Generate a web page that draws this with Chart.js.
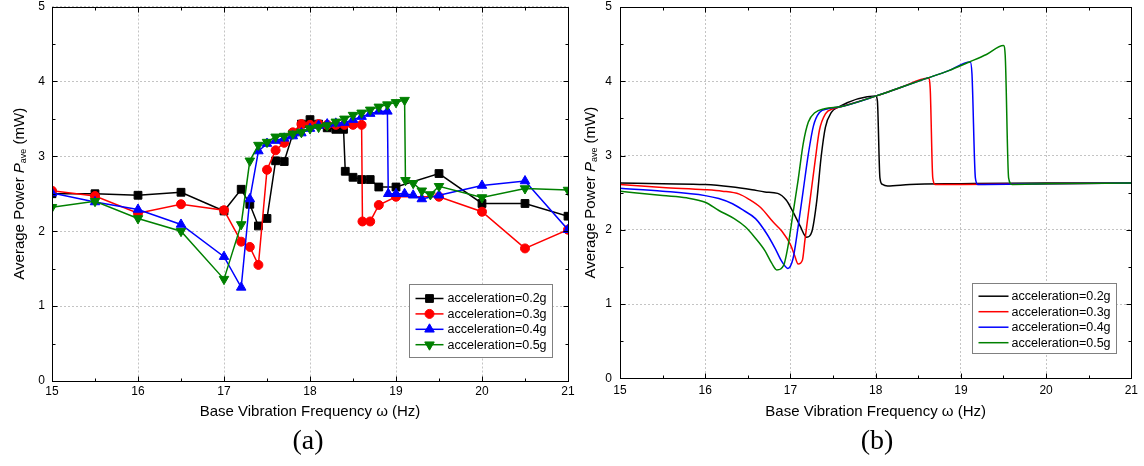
<!DOCTYPE html>
<html><head><meta charset="utf-8">
<script src="https://cdn.jsdelivr.net/npm/chart.js@4/dist/chart.umd.min.js"></script>
<style>
html,body{margin:0;padding:0;background:#fff;}
#wrap{position:relative;width:1144px;height:466px;overflow:hidden;background:#fff;}
canvas{position:absolute;left:0;top:0;}
.cap{position:absolute;top:440px;font-family:'Liberation Serif','Times New Roman',serif;font-size:28px;color:#000;transform:translate(-50%,-50%);white-space:nowrap;}
</style></head><body>
<div id="wrap">
<canvas id="ca" width="1144" height="466"></canvas>
<canvas id="cb" width="1144" height="466"></canvas>
<div class="cap" style="left:308px">(a)</div>
<div class="cap" style="left:877px">(b)</div>
</div>
<script>
// ---------- tick / label data ----------
const seriesLabels = ['acceleration=0.2g','acceleration=0.3g','acceleration=0.4g','acceleration=0.5g'];
const seriesColors = ['#000000','#ff0000','#0000ff','#008000'];
const xTitle = 'Base Vibration Frequency \u03c9 (Hz)';
const yTitleParts = ['Average Power ', 'P', 'ave', ' (mW)'];
const xRange = [15, 21];
const yRange = [0, 5];

// ---------- (a) experimental data ----------
const a02x = [15,15.5,16,16.5,17,17.2,17.3,17.4,17.5,17.6,17.7,17.8,17.9,18.0,18.1,18.2,18.3,18.39,18.41,18.5,18.6,18.7,18.8,19.0,19.5,20,20.5,21];
const a02y = [2.50,2.50,2.48,2.52,2.27,2.56,2.36,2.07,2.17,2.94,2.93,3.30,3.43,3.49,3.43,3.38,3.36,3.36,2.80,2.72,2.69,2.69,2.59,2.59,2.77,2.37,2.37,2.20];
const a03x = [15,15.5,16,16.5,17,17.2,17.3,17.4,17.5,17.6,17.7,17.8,17.9,18.0,18.1,18.2,18.3,18.4,18.5,18.6,18.61,18.7,18.8,19.0,19.5,20,20.5,21];
const a03y = [2.54,2.47,2.24,2.36,2.28,1.86,1.79,1.55,2.82,3.08,3.18,3.32,3.43,3.42,3.43,3.42,3.42,3.42,3.42,3.42,2.13,2.13,2.35,2.46,2.46,2.26,1.77,2.02];
const a04x = [15,15.5,16,16.5,17,17.2,17.3,17.4,17.5,17.6,17.7,17.8,17.9,18.0,18.1,18.2,18.3,18.4,18.5,18.6,18.7,18.8,18.9,18.91,19.0,19.1,19.2,19.3,19.5,20,20.5,21];
const a04y = [2.51,2.39,2.29,2.09,1.66,1.25,2.43,3.07,3.17,3.21,3.24,3.27,3.31,3.37,3.41,3.43,3.44,3.45,3.49,3.53,3.57,3.60,3.60,2.50,2.50,2.50,2.48,2.43,2.48,2.61,2.67,2.02];
const a05x = [15,15.5,16,16.5,17,17.2,17.3,17.4,17.5,17.6,17.7,17.8,17.9,18.0,18.1,18.2,18.3,18.4,18.5,18.6,18.7,18.8,18.9,19.0,19.1,19.11,19.2,19.3,19.4,19.5,20,20.5,21];
const a05y = [2.32,2.40,2.17,2.00,1.36,2.09,2.94,3.15,3.19,3.26,3.27,3.30,3.32,3.37,3.39,3.41,3.46,3.50,3.55,3.58,3.62,3.66,3.69,3.72,3.75,2.68,2.64,2.54,2.49,2.60,2.45,2.57,2.55];

// ---------- (b) simulated curves ----------
const b02x = [15,15.5,16,16.3,16.55,16.7,16.85,16.95,17.03,17.11,17.19,17.25,17.31,17.36,17.41,17.48,17.56,18.0,18.02,18.05,18.08,18.14,18.4,19,20,21];
const b02y = [2.63,2.62,2.61,2.58,2.54,2.51,2.49,2.40,2.24,2.06,1.90,1.97,2.40,2.98,3.38,3.58,3.65,3.80,3.74,2.70,2.61,2.59,2.61,2.62,2.63,2.63];
const b03x = [15,15.5,16,16.2,16.4,16.5,16.65,16.8,16.9,17.0,17.05,17.09,17.14,17.17,17.23,17.29,17.34,17.41,17.5,17.6,18.0,18.3,18.62,18.64,18.67,18.7,19,20,21];
const b03y = [2.61,2.57,2.54,2.52,2.48,2.42,2.30,2.10,1.98,1.80,1.65,1.54,1.59,1.86,2.40,2.93,3.34,3.56,3.63,3.66,3.80,3.92,4.04,3.90,2.70,2.61,2.61,2.62,2.63];
const b04x = [15,15.5,16,16.16,16.32,16.45,16.59,16.72,16.82,16.9,16.97,17.03,17.09,17.15,17.21,17.27,17.34,17.44,17.6,18.0,18.3,18.6,18.85,19.11,19.13,19.17,19.2,20,21];
const b04y = [2.56,2.52,2.46,2.42,2.35,2.26,2.15,1.95,1.75,1.57,1.48,1.61,2.04,2.53,3.02,3.40,3.58,3.63,3.66,3.80,3.92,4.04,4.14,4.26,4.10,2.70,2.61,2.62,2.63];
const b05x = [15,15.5,15.78,16,16.16,16.34,16.47,16.58,16.7,16.78,16.84,16.92,16.97,17.03,17.09,17.15,17.21,17.29,17.4,17.6,18.0,18.3,18.6,18.85,19.1,19.3,19.5,19.52,19.56,19.6,20,21];
const b05y = [2.52,2.46,2.43,2.37,2.26,2.15,2.04,1.90,1.72,1.55,1.46,1.52,1.77,2.22,2.67,3.16,3.45,3.58,3.63,3.66,3.80,3.92,4.04,4.14,4.26,4.36,4.48,4.35,2.70,2.61,2.62,2.63];

const pointStyles = ['rect','circle','triangle','triangle'];
const pointRots = [0,0,0,180];
const pointRadii = [5.5,4.5,5.5,5.5];

const pts = (xs, ys) => xs.map((x, i) => ({x: x, y: ys[i]}));

Chart.defaults.font.family = "'Liberation Sans', Arial, sans-serif";
Chart.defaults.color = '#000';

function drawMarker(ctx, style, rot, r, x, y) {
  const H = Chart.helpers;
  if (H && H.drawPoint) {
    H.drawPoint(ctx, {pointStyle: style, rotation: rot, radius: r, borderWidth: 1}, x, y);
    return;
  }
  ctx.beginPath();
  if (style === 'circle') ctx.arc(x, y, r, 0, Math.PI * 2);
  else if (style === 'rect') { const s = r * Math.SQRT1_2; ctx.rect(x - s, y - s, 2 * s, 2 * s); }
  else {
    const d = rot ? -1 : 1;
    ctx.moveTo(x, y - d * r);
    ctx.lineTo(x + r * 0.866, y + d * r * 0.5);
    ctx.lineTo(x - r * 0.866, y + d * r * 0.5);
    ctx.closePath();
  }
  ctx.fill(); ctx.stroke();
}

const decoPlugin = {
  id: 'deco',
  afterDraw(chart, args, o) {
    const ctx = chart.ctx, ca = chart.chartArea, xs = chart.scales.x, ys = chart.scales.y;
    ctx.save();
    ctx.setLineDash([]);
    ctx.strokeStyle = '#000'; ctx.lineWidth = 1;
    const L = Math.round(ca.left) + 0.5, R = Math.round(ca.right) + 0.5;
    const T = Math.round(ca.top) + 0.5, B = Math.round(ca.bottom) + 0.5;
    ctx.strokeRect(L, T, R - L, B - T);
    ctx.beginPath();
    for (let v = xs.min; v <= xs.max + 1e-9; v += 0.5) {
      const p = Math.round(xs.getPixelForValue(v)) + 0.5;
      const len = Math.abs(v - Math.round(v)) < 1e-6 ? 5 : 3;
      ctx.moveTo(p, B); ctx.lineTo(p, B - len);
      ctx.moveTo(p, T); ctx.lineTo(p, T + len);
    }
    for (let v = ys.min; v <= ys.max + 1e-9; v += 0.5) {
      const p = Math.round(ys.getPixelForValue(v)) + 0.5;
      const len = Math.abs(v - Math.round(v)) < 1e-6 ? 5 : 3;
      ctx.moveTo(L, p); ctx.lineTo(L + len, p);
      ctx.moveTo(R, p); ctx.lineTo(R - len, p);
    }
    ctx.stroke();

    // y axis title (rich text)
    ctx.save();
    ctx.translate(o.yTitleX, (ca.top + ca.bottom) / 2);
    ctx.rotate(-Math.PI / 2);
    ctx.fillStyle = '#000';
    ctx.textBaseline = 'middle';
    ctx.textAlign = 'left';
    const fam = "'Liberation Sans', Arial, sans-serif";
    const fonts = ['15px ' + fam, 'italic 15px ' + fam, '9px ' + fam, '15px ' + fam];
    const dy = [0, 0, 4, 0];
    let widths = yTitleParts.map((t, i) => { ctx.font = fonts[i]; return ctx.measureText(t).width; });
    let total = widths.reduce((a, b) => a + b, 0);
    let xx = -total / 2;
    yTitleParts.forEach((t, i) => { ctx.font = fonts[i]; ctx.fillText(t, xx, dy[i]); xx += widths[i]; });
    ctx.restore();

    // legend
    const lg = o.legend;
    const bx = Math.round(ca.right - lg.offR - lg.w) + 0.5;
    const by = Math.round(ca.bottom - lg.offB - lg.h) + 0.5;
    ctx.fillStyle = '#fff';
    ctx.fillRect(bx, by, lg.w, lg.h);
    ctx.strokeStyle = '#808080';
    ctx.strokeRect(bx, by, lg.w, lg.h);
    ctx.font = '12.5px ' + fam;
    ctx.textBaseline = 'middle';
    chart.data.datasets.forEach((ds, i) => {
      const y = by + lg.row0 + i * lg.rowH;
      ctx.strokeStyle = ds.borderColor;
      ctx.lineWidth = 1.5;
      ctx.beginPath();
      ctx.moveTo(bx + lg.s0, y); ctx.lineTo(bx + lg.s1, y);
      ctx.stroke();
      if (lg.markers) {
        ctx.fillStyle = ds.backgroundColor;
        ctx.lineWidth = 1;
        drawMarker(ctx, ds.pointStyle, ds.pointRotation || 0, ds.pointRadius, bx + (lg.s0 + lg.s1) / 2, y);
      }
      ctx.fillStyle = '#000';
      ctx.fillText(ds.label, bx + lg.tx, y + 0.5);
    });
    ctx.restore();
  }
};

function scalesFor(cfg) {
  return {
    x: {
      type: 'linear', min: xRange[0], max: xRange[1],
      afterFit: s => { s.height = 45; },
      ticks: { stepSize: 1, padding: cfg.xPad, font: {size: 12, lineHeight: 1}, color: '#000', autoSkip: false, maxRotation: 0 },
      grid: { color: '#c4c4c4', lineWidth: 1, drawTicks: false },
      border: { display: false, dash: [2, 2] },
      title: { display: true, text: xTitle, font: {size: 15}, color: '#000', padding: {top: 0, bottom: cfg.tPad} }
    },
    y: {
      type: 'linear', min: yRange[0], max: yRange[1],
      afterFit: s => { s.width = 52; },
      ticks: { stepSize: 1, padding: 0, font: {size: 12, lineHeight: 1}, color: '#000' },
      grid: { color: '#c4c4c4', lineWidth: 1, drawTicks: true, tickLength: cfg.yPad, tickColor: 'rgba(0,0,0,0)' },
      border: { display: false, dash: [2, 2] }
    }
  };
}

const expX = [a02x, a03x, a04x, a05x], expY = [a02y, a03y, a04y, a05y];
const simX = [b02x, b03x, b04x, b05x], simY = [b02y, b03y, b04y, b05y];

new Chart(document.getElementById('ca'), {
  type: 'line',
  data: {
    datasets: seriesLabels.map((lab, i) => ({
      label: lab,
      data: pts(expX[i], expY[i]),
      borderColor: seriesColors[i], backgroundColor: seriesColors[i],
      borderWidth: 1.5, tension: 0,
      pointStyle: pointStyles[i], pointRotation: pointRots[i], pointRadius: pointRadii[i],
      pointBorderWidth: 1, order: 4 - i,
      clip: {left: 0, right: 0, top: 6, bottom: 6}
    }))
  },
  plugins: [decoPlugin],
  options: {
    responsive: false, devicePixelRatio: 1, animation: false, events: [],
    layout: { padding: {left: 0, top: 0, right: 576, bottom: 40} },
    scales: scalesFor({xPad: 5, yPad: 7, tPad: 5}),
    plugins: {
      legend: {display: false}, tooltip: {enabled: false},
      deco: { yTitleX: 20, legend: {offR: 16, offB: 24, w: 143, h: 73, row0: 14, rowH: 15.4, s0: 6, s1: 34, tx: 38, markers: true} }
    }
  }
});

new Chart(document.getElementById('cb'), {
  type: 'line',
  data: {
    datasets: seriesLabels.map((lab, i) => ({
      label: lab,
      data: pts(simX[i], simY[i]),
      borderColor: seriesColors[i], backgroundColor: seriesColors[i],
      borderWidth: 1.5, cubicInterpolationMode: 'monotone',
      pointRadius: 0, order: 4 - i
    }))
  },
  plugins: [decoPlugin],
  options: {
    responsive: false, devicePixelRatio: 1, animation: false, events: [],
    layout: { padding: {left: 568, top: 7, right: 8, bottom: 42.7} },
    scales: scalesFor({xPad: 6, yPad: 8, tPad: 2.3}),
    plugins: {
      legend: {display: false}, tooltip: {enabled: false},
      deco: { yTitleX: 591, legend: {offR: 15, offB: 25.3, w: 144, h: 70, row0: 12.7, rowH: 15.5, s0: 6, s1: 36, tx: 39, markers: false} }
    }
  }
});
</script>
</body></html>
